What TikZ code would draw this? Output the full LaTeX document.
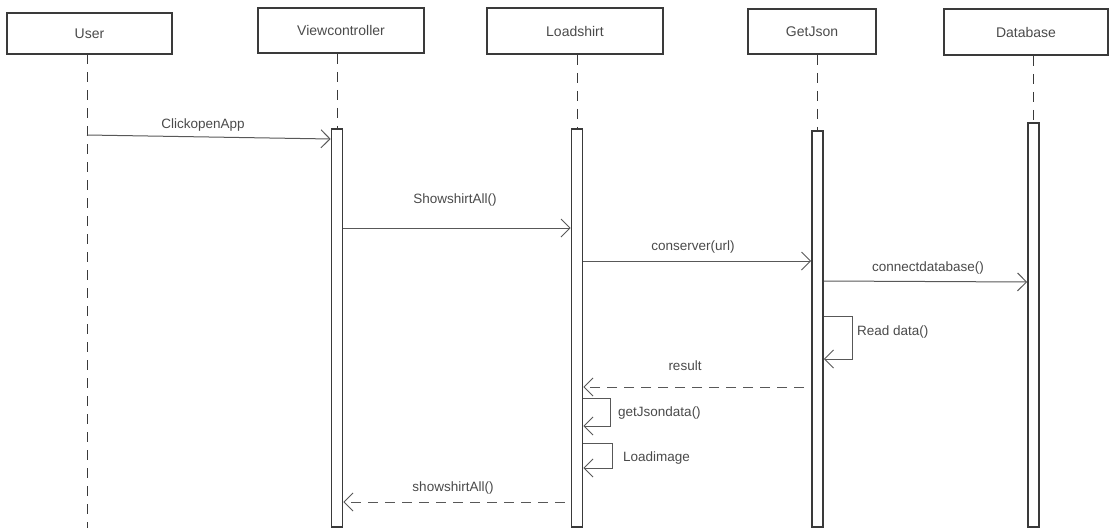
\documentclass[tikz,border=0pt]{standalone}
\usepackage{fontspec}
\setmainfont{Liberation Sans}
\usetikzlibrary{arrows.meta}
\definecolor{ink}{HTML}{3A3A3A}
\definecolor{txt}{HTML}{4A4A4A}
\begin{document}
\begin{tikzpicture}[x=1pt,y=-1pt,
 obj/.style={draw=ink, line width=1.6pt, inner sep=0pt, font=\fontsize{14}{16}\selectfont, text=txt},
 bar/.style={draw=ink, line width=1.6pt, fill=white, minimum width=11pt, inner sep=0pt},
 life/.style={draw=ink, line width=1pt, dash pattern=on 10pt off 8pt},
 msg/.style={draw=ink!85, line width=1pt, -{Straight Barb[length=9pt,width=18pt]}},
 ret/.style={msg, dash pattern=on 10pt off 7pt},
 lbl/.style={font=\fontsize{13.5}{16}\selectfont, text=txt, inner sep=0pt}]
\useasboundingbox (0,0) rectangle (1109,530);
% objects
\node[obj, minimum width=165pt, minimum height=41pt] (user) at (89.5,33.5) {User};
\node[obj, minimum width=166pt, minimum height=45pt] (vc) at (341,30.5) {Viewcontroller};
\node[obj, minimum width=176pt, minimum height=46pt] (ls) at (575,31) {Loadshirt};
\node[obj, minimum width=128pt, minimum height=45pt] (gj) at (812,31.5) {GetJson};
\node[obj, minimum width=164pt, minimum height=46pt] (db) at (1026,32) {Database};
% activation bars
\node[bar, minimum height=398pt] (vcbar) at (337,328) {};
\node[bar, minimum height=398pt] (lsbar) at (577,328) {};
\node[bar, minimum height=396pt] (gjbar) at (817.5,329) {};
\node[bar, minimum height=404pt] (dbbar) at (1033.5,325) {};
% lifelines
\coordinate (utop) at (87,54);
\coordinate (uend) at (87,528);
\draw[life] (utop) -- (uend);
\draw[life] (vcbar.north |- vc.south) -- (vcbar.north);
\draw[life] (lsbar.north |- ls.south) -- (lsbar.north);
\draw[life] (gjbar.north |- gj.south) -- (gjbar.north);
\draw[life] (dbbar.north |- db.south) -- (dbbar.north);
% messages
\coordinate (u1) at (87,135);
\draw[msg] (u1) -- (vcbar.west |- 0,139);
\node[lbl] (l1) at (203,125) {ClickopenApp};
\draw[msg] (vcbar.east |- 0,228) -- (lsbar.west |- 0,228);
\node[lbl] (l2) at (455,200) {ShowshirtAll()};
\draw[msg] (lsbar.east |- 0,261) -- (gjbar.west |- 0,261);
\node[lbl] (l3) at (693,247) {conserver(url)};
\draw[msg] (gjbar.east |- 0,281) -- (dbbar.west |- 0,282);
\node[lbl] (l4) at (928,268) {connectdatabase()};
\draw[msg] (gjbar.east |- 0,316) -- ++(29,0) -- ++(0,43) -- (gjbar.east |- 0,359);
\node[lbl, anchor=west] (l5) at (857,332) {Read data()};
\draw[ret] (gjbar.west |- 0,387) ++(-7,0) -- (lsbar.east |- 0,387);
\node[lbl] (l6) at (685,366) {result};
\draw[msg] (lsbar.east |- 0,398) -- ++(27,0) -- ++(0,28) -- (lsbar.east |- 0,426);
\node[lbl, anchor=west] (l7) at (618,413) {getJsondata()};
\draw[msg] (lsbar.east |- 0,443) -- ++(29,0) -- ++(0,25) -- (lsbar.east |- 0,468);
\node[lbl, anchor=west] (l8) at (623,458) {Loadimage};
\draw[ret] (lsbar.west |- 0,502) ++(-6,0) -- (vcbar.east |- 0,502);
\node[lbl] (l9) at (453,488) {showshirtAll()};
\end{tikzpicture}
\end{document}
